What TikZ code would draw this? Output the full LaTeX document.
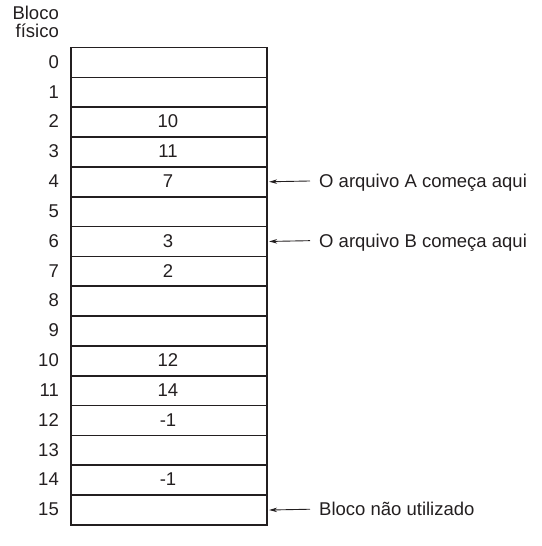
\documentclass[tikz,border=0pt]{standalone}
\usepackage{fontspec}
\setmainfont{Liberation Sans}
\usetikzlibrary{arrows.meta}
\definecolor{ink}{HTML}{231F20}
\begin{document}
\begin{tikzpicture}[x=1pt,y=-1pt,
  every node/.style={text=ink,font=\fontsize{18.5}{22}\selectfont},
  cell/.style={draw=ink,line width=1.6pt,minimum width=196pt,minimum height=29.84pt,inner sep=0pt,anchor=north west},
  idx/.style={anchor=base east,inner sep=0pt},
  val/.style={anchor=base,inner sep=0pt},
  note/.style={anchor=base west,inner sep=0pt},
  ptr/.style={draw=ink,line width=0.9pt,-{Stealth[length=8pt,width=4.5pt]}}]
\useasboundingbox (0,0) rectangle (541,546);
\node[idx] (h1) at (59,19.5) {Bloco};
\node[idx] (h2) at (59,37) {físico};
\foreach \i/\v in {0/,1/,2/10,3/11,4/7,5/,6/3,7/2,8/,9/,10/12,11/14,12/-1,13/,14/-1,15/}{
  \node[cell] (r\i) at (70,46.7+29.84*\i) {};
  \node[idx] (n\i) at (59,46.7+29.84*\i+14.92+6.6) {\i};
  \node[val] (v\i) at (168,46.7+29.84*\i+14.92+6.6) {\v};
}
\node[note] (a) at (319,46.7+29.84*4+14.92+6.6) {O arquivo A começa aqui};
\node[note] (b) at (319,46.7+29.84*6+14.92+6.6) {O arquivo B começa aqui};
\node[note] (c) at (319,46.7+29.84*15+14.92+6.6) {Bloco não utilizado};
\coordinate (ae) at (310,46.7+29.84*4.5);
\coordinate (be) at (310,46.7+29.84*6.5);
\coordinate (ce) at (310,46.7+29.84*15.5);
\draw[ptr] (ae) -- ([xshift=1.5pt]r4.east);
\draw[ptr] (be) -- ([xshift=1.5pt]r6.east);
\draw[ptr] (ce) -- ([xshift=1.5pt]r15.east);
\end{tikzpicture}
\end{document}
